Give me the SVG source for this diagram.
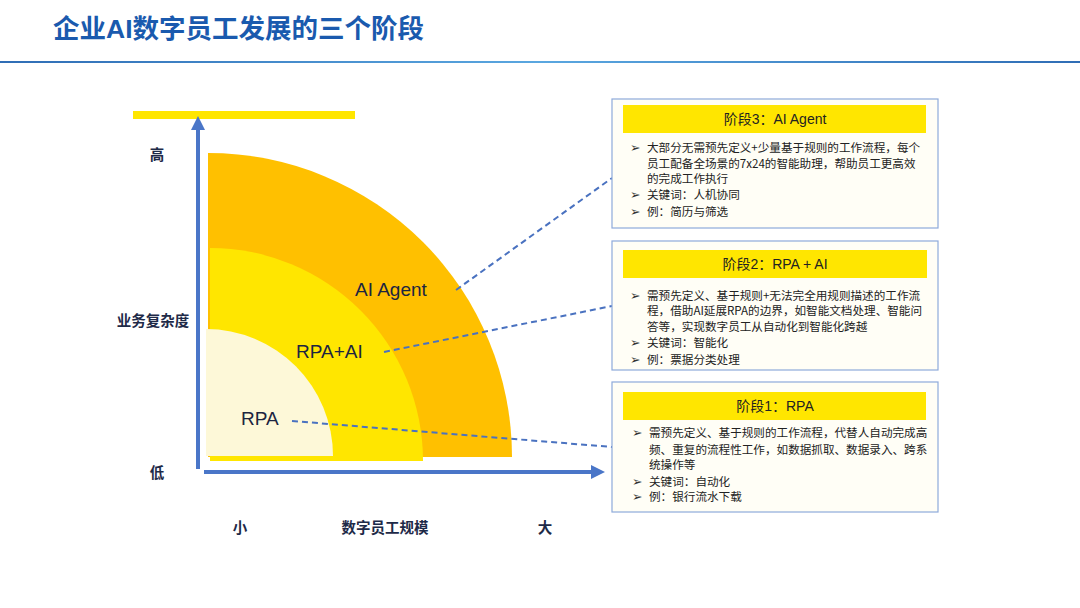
<svg xmlns="http://www.w3.org/2000/svg" width="1080" height="608" viewBox="0 0 1080 608">
<defs>
<linearGradient id="rule" x1="0" x2="1" y1="0" y2="0">
<stop offset="0" stop-color="#2f6db5"/><stop offset="0.5" stop-color="#5aa7e0"/><stop offset="1" stop-color="#2f6db5"/>
</linearGradient>
<style>
.title{font-family:"Noto Sans CJK SC","Liberation Sans",sans-serif;font-size:26.5px;font-weight:700;fill:#1a5aae}
.ax{font-family:"Noto Sans CJK SC","Liberation Sans",sans-serif;font-size:14.5px;font-weight:700;fill:#1e2a48}
.lab{font-family:"Liberation Sans","Noto Sans CJK SC",sans-serif;font-size:19px;fill:#1c2540}
.box{fill:#fffef6;stroke:#8eaadb;stroke-width:1.2}
.hdr{fill:#ffe600}
.ht{font-family:"Liberation Sans","Noto Sans CJK SC",sans-serif;font-size:14px;fill:#222;text-anchor:middle}
.bt{font-family:"Noto Sans CJK SC","Liberation Sans",sans-serif;font-size:11.6px;fill:#222}
.bl{font-family:"DejaVu Sans",sans-serif;font-size:12.5px;fill:#333}
.dash{stroke:#4a72c0;stroke-width:2;stroke-dasharray:6 4;fill:none}
.axis{stroke:#4a76c8;stroke-width:4;fill:none}
</style>
</defs>
<rect width="1080" height="608" fill="#ffffff"/>
<text class="title" x="53" y="38">企业<tspan font-family="Liberation Sans" font-weight="900">AI</tspan>数字员工发展的三个阶段</text>
<rect x="0" y="61" width="1080" height="2" fill="url(#rule)"/>

<g id="chart">
<rect x="133" y="111" width="222" height="8" fill="#ffe600"/>
<path d="M208,457 L208,153 A304,304 0 0 1 512,457 Z" fill="#ffc000"/>
<path d="M210,461 L210,248 A213,213 0 0 1 423,461 Z" fill="#ffe600"/>
<path d="M206,456 L206,329 A127,127 0 0 1 333,456 Z" fill="#fdf8d8"/>
<line class="axis" x1="198" y1="469" x2="198" y2="128"/>
<polygon points="198,116 191,130 205,130" fill="#4a76c8"/>
<line class="axis" x1="204" y1="472" x2="594" y2="472"/>
<polygon points="605,472 591,465 591,479" fill="#4a76c8"/>
<text class="ax" x="157" y="160" text-anchor="middle">高</text>
<text class="ax" x="153" y="326" text-anchor="middle">业务复杂度</text>
<text class="ax" x="157" y="478" text-anchor="middle">低</text>
<text class="ax" x="240" y="533" text-anchor="middle">小</text>
<text class="ax" x="385" y="533" text-anchor="middle">数字员工规模</text>
<text class="ax" x="545" y="533" text-anchor="middle">大</text>
<text class="lab" x="355" y="296">AI Agent</text>
<text class="lab" x="296" y="358">RPA+AI</text>
<text class="lab" x="241" y="425">RPA</text>
</g>

<g id="connectors">
<line class="dash" x1="456" y1="290" x2="612" y2="178"/>
<line class="dash" x1="384" y1="352" x2="612" y2="306"/>
<line class="dash" x1="292" y1="421" x2="612" y2="447"/>
</g>

<g id="stage3">
<rect class="box" x="612" y="99" width="326" height="129"/>
<rect class="hdr" x="623" y="105" width="303" height="28"/>
<text class="ht" x="775" y="124">阶段3：AI Agent</text>
<text class="bl" x="630" y="152">➢</text>
<text class="bt" x="647" y="152">大部分无需预先定义+少量基于规则的工作流程，每个</text>
<text class="bt" x="647" y="168">员工配备全场景的7x24的智能助理，帮助员工更高效</text>
<text class="bt" x="647" y="183">的完成工作执行</text>
<text class="bl" x="630" y="199">➢</text>
<text class="bt" x="647" y="199">关键词：人机协同</text>
<text class="bl" x="630" y="216">➢</text>
<text class="bt" x="647" y="216">例：简历与筛选</text>
</g>

<g id="stage2">
<rect class="box" x="612" y="241" width="326" height="129"/>
<rect class="hdr" x="623" y="250" width="304" height="28"/>
<text class="ht" x="775" y="269">阶段2：RPA + AI</text>
<text class="bl" x="630" y="300">➢</text>
<text class="bt" x="647" y="300">需预先定义、基于规则+无法完全用规则描述的工作流</text>
<text class="bt" x="647" y="315">程，借助AI延展RPA的边界，如智能文档处理、智能问</text>
<text class="bt" x="647" y="331">答等，实现数字员工从自动化到智能化跨越</text>
<text class="bl" x="630" y="347">➢</text>
<text class="bt" x="647" y="347">关键词：智能化</text>
<text class="bl" x="630" y="364">➢</text>
<text class="bt" x="647" y="364">例：票据分类处理</text>
</g>

<g id="stage1">
<rect class="box" x="612" y="382" width="326" height="130"/>
<rect class="hdr" x="623" y="392" width="303" height="28"/>
<text class="ht" x="775" y="411">阶段1：RPA</text>
<text class="bl" x="632" y="437">➢</text>
<text class="bt" x="649" y="437">需预先定义、基于规则的工作流程，代替人自动完成高</text>
<text class="bt" x="649" y="454">频、重复的流程性工作，如数据抓取、数据录入、跨系</text>
<text class="bt" x="649" y="469">统操作等</text>
<text class="bl" x="632" y="486">➢</text>
<text class="bt" x="649" y="486">关键词：自动化</text>
<text class="bl" x="632" y="501">➢</text>
<text class="bt" x="649" y="501">例：银行流水下载</text>
</g>
</svg>
